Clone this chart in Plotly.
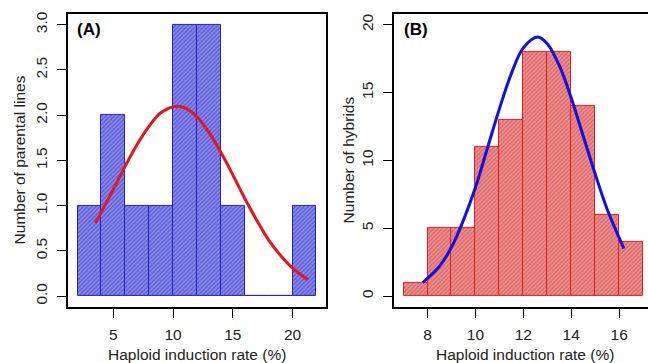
import plotly.graph_objects as go

# ---------------- data ----------------
# Panel A: parental lines
a_edges = [2, 4, 6, 8, 10, 12, 14, 16, 18, 20, 22]
a_counts = [1, 2, 1, 1, 3, 3, 1, 0, 0, 1]
a_curve_x = [3.5, 5, 6, 7, 8, 9, 10.3, 11, 12, 13, 14, 15, 16, 17, 18, 19, 20, 21.3]
a_curve_y = [0.81, 1.18, 1.44, 1.68, 1.88, 2.03, 2.10, 2.08, 1.98, 1.81, 1.59, 1.34, 1.08, 0.84, 0.62, 0.45, 0.31, 0.18]
a_xticks = [5, 10, 15, 20]
a_yticks = [0.0, 0.5, 1.0, 1.5, 2.0, 2.5, 3.0]
a_yticklabels = ["0.0", "0.5", "1.0", "1.5", "2.0", "2.5", "3.0"]

# Panel B: hybrids
b_edges = [7, 8, 9, 10, 11, 12, 13, 14, 15, 16, 17]
b_counts = [1, 5, 5, 11, 13, 18, 18, 14, 6, 4]
b_curve_x = [7.8, 8.5, 9, 9.5, 10, 10.5, 11, 11.5, 12, 12.6, 13, 13.5, 14, 14.5, 15, 15.5, 16, 16.2]
b_curve_y = [1.0, 2.2, 3.6, 5.6, 8.0, 10.9, 13.8, 16.4, 18.3, 19.1, 18.6, 17.0, 14.6, 11.8, 9.0, 6.4, 4.3, 3.5]
b_xticks = [8, 10, 12, 14, 16]
b_yticks = [0, 5, 10, 15, 20]

xtitle = "Haploid induction rate (%)"
a_ytitle = "Number of parental lines"
b_ytitle = "Number of hybrids"

# ---------------- figure ----------------
FONT = "Liberation Sans, Arial, sans-serif"
fig = go.Figure()

def centers(edges):
    return [(edges[i] + edges[i + 1]) / 2 for i in range(len(edges) - 1)]

def widths(edges):
    return [edges[i + 1] - edges[i] for i in range(len(edges) - 1)]

fig.add_trace(go.Bar(
    x=centers(a_edges), y=a_counts, width=widths(a_edges),
    marker=dict(color="#6a6ae0",
                line=dict(color="#2222d0", width=1),
                pattern=dict(shape="/", fgcolor="#2a2ac4", bgcolor="#8e8eec", size=3, solidity=0.5)),
    xaxis="x", yaxis="y", showlegend=False))
fig.add_trace(go.Scatter(
    x=a_curve_x, y=a_curve_y, mode="lines", line=dict(color="#e8141c", width=3, shape="spline"),
    xaxis="x", yaxis="y", showlegend=False))

fig.add_trace(go.Bar(
    x=centers(b_edges), y=b_counts, width=widths(b_edges),
    marker=dict(color="#e06a6a",
                line=dict(color="#e81e1e", width=1),
                pattern=dict(shape="/", fgcolor="#cc3c3c", bgcolor="#ee9494", size=3, solidity=0.5)),
    xaxis="x2", yaxis="y2", showlegend=False))
fig.add_trace(go.Scatter(
    x=b_curve_x, y=b_curve_y, mode="lines", line=dict(color="#1010e0", width=3, shape="spline"),
    xaxis="x2", yaxis="y2", showlegend=False))

W, H = 648, 363
yd = [1 - 306.5 / H, 1 - 11 / H]
axis_common = dict(showgrid=False, zeroline=False, showline=True, linecolor="black", linewidth=2,
                   ticks="outside", ticklen=9, tickwidth=1.3, tickcolor="black",
                   tickfont=dict(family=FONT, size=15.5, color="#222"))

fig.update_layout(
    width=W, height=H, margin=dict(l=0, r=0, t=0, b=0),
    paper_bgcolor="white", plot_bgcolor="white", bargap=0,
    xaxis=dict(domain=[68 / W, 326 / W], range=[1.2, 22.8], tickvals=a_xticks,
               mirror=True, anchor="y", ticklabelstandoff=3, **axis_common),
    yaxis=dict(domain=yd, range=[-0.12, 3.12], tickvals=a_yticks, ticktext=a_yticklabels,
               tickangle=-90, mirror=True, anchor="x", ticklabelstandoff=4, **axis_common),
    xaxis2=dict(domain=[394 / W, 1.0], range=[6.6, 6.6 + (648 - 394) / 23.95], tickvals=b_xticks,
                mirror=True, anchor="y2", ticklabelstandoff=3, **axis_common),
    yaxis2=dict(domain=yd, range=[-0.8, 20.8], tickvals=b_yticks,
                tickangle=-90, mirror=False, anchor="x2", ticklabelstandoff=4, **axis_common),
)

ann_font = dict(family=FONT, size=15.5, color="#222")
fig.add_annotation(x=197 / W, y=1 - 354 / H, xref="paper", yref="paper", text=xtitle,
                   showarrow=False, font=ann_font, xanchor="center", yanchor="middle")
fig.add_annotation(x=525 / W, y=1 - 354 / H, xref="paper", yref="paper", text=xtitle,
                   showarrow=False, font=ann_font, xanchor="center", yanchor="middle")
fig.add_annotation(x=19 / W, y=(yd[0] + yd[1]) / 2, xref="paper", yref="paper", text=a_ytitle,
                   showarrow=False, font=ann_font, textangle=-90, xanchor="center", yanchor="middle")
fig.add_annotation(x=348 / W, y=(yd[0] + yd[1]) / 2, xref="paper", yref="paper", text=b_ytitle,
                   showarrow=False, font=ann_font, textangle=-90, xanchor="center", yanchor="middle")

lab_font = dict(family=FONT, size=17, color="black")
fig.add_annotation(x=75 / W, y=1 - 27 / H, xref="paper", yref="paper", text="<b>(A)</b>",
                   showarrow=False, font=lab_font, xanchor="left", yanchor="middle")
fig.add_annotation(x=402 / W, y=1 - 27 / H, xref="paper", yref="paper", text="<b>(B)</b>",
                   showarrow=False, font=lab_font, xanchor="left", yanchor="middle")

fig.write_html("out.html", config={"displayModeBar": False},
               post_script="document.body.style.margin='0';document.body.style.overflow='hidden';")
